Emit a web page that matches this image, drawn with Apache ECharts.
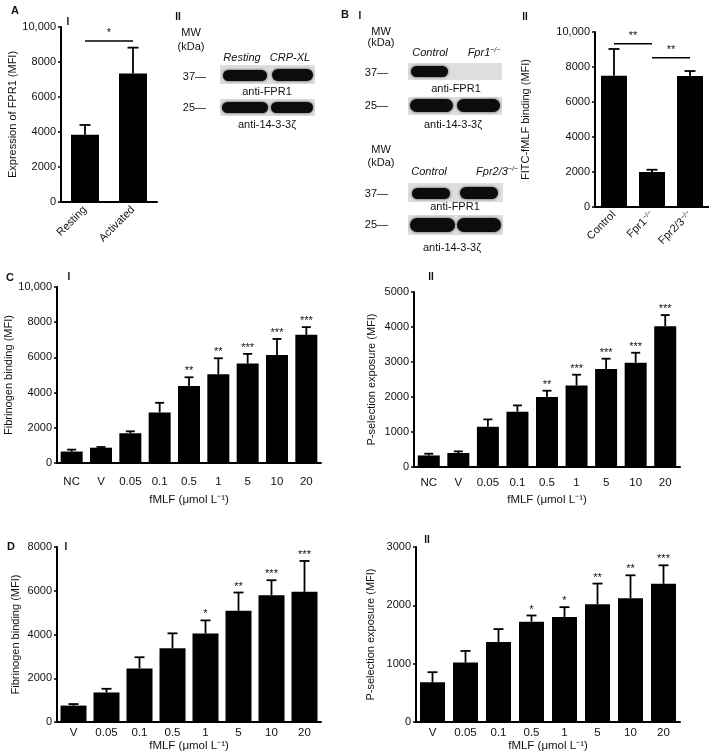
<!DOCTYPE html>
<html>
<head>
<meta charset="utf-8">
<script src="https://cdn.jsdelivr.net/npm/echarts@6/dist/echarts.min.js"></script>
<style>
html,body{margin:0;padding:0;background:#fff;}
#c{width:709px;height:756px;}
</style>
</head>
<body>
<div id="c"></div>
<script>
// ---------- data ----------
const catA = ['Resting', 'Activated'];
const valA = [3850, 7350];
const errA = [4400, 8820];
const sigA = [[0, 1, 9200, '*']];

const catB = ['Control', 'Fpr1', 'Fpr2/3'];
const valB = [7500, 2000, 7490];
const errB = [9030, 2130, 7770];
const sigB = [[0, 1, 9330, '**'], [1, 2, 8530, '**']];

const catC = ['NC', 'V', '0.05', '0.1', '0.5', '1', '5', '10', '20'];
const valC1 = [650, 870, 1690, 2870, 4370, 5040, 5650, 6140, 7280];
const errC1 = [760, 910, 1800, 3420, 4870, 5950, 6200, 7050, 7720];
const starC1 = ['', '', '', '', '**', '**', '***', '***', '***'];
const valC2 = [330, 400, 1150, 1580, 2000, 2330, 2800, 2980, 4020];
const errC2 = [380, 447, 1360, 1760, 2180, 2637, 3094, 3265, 4341];
const starC2 = ['', '', '', '', '**', '***', '***', '***', '***'];

const catD = ['V', '0.05', '0.1', '0.5', '1', '5', '10', '20'];
const valD1 = [750, 1350, 2450, 3370, 4050, 5085, 5800, 5950];
const errD1 = [820, 1518, 2960, 4053, 4645, 5920, 6480, 7362];
const starD1 = ['', '', '', '', '*', '**', '***', '***'];
const valD2 = [680, 1020, 1370, 1720, 1800, 2020, 2120, 2370];
const errD2 = [854, 1218, 1593, 1826, 1969, 2373, 2515, 2686];
const starD2 = ['', '', '', '*', '*', '**', '**', '***'];

// ---------- styling ----------
const FONT = '"Liberation Sans", Arial, Helvetica, sans-serif';
const INK = '#111';
const chart = echarts.init(document.getElementById('c'));

const grids = [
  {left: 61, top: 27, width: 96, height: 175},
  {left: 595, top: 32, width: 114, height: 175},
  {left: 57, top: 287, width: 264, height: 176},
  {left: 414, top: 292, width: 266, height: 175},
  {left: 57, top: 547, width: 264, height: 175},
  {left: 416, top: 547, width: 264, height: 175}
];

function fmtTick(v) { return v >= 10000 ? v.toLocaleString('en-US') : String(v); }

function yAx(gi, max, interval, name, nameGap) {
  return {
    type: 'value', gridIndex: gi, min: 0, max: max, interval: interval,
    name: name, nameLocation: 'middle', nameRotate: 90, nameGap: nameGap,
    nameTextStyle: {fontFamily: FONT, fontSize: 11, color: INK},
    axisLine: {show: true, lineStyle: {color: '#000', width: 2}},
    axisTick: {show: true, length: 3, lineStyle: {color: '#000', width: 1.5}},
    axisLabel: {fontFamily: FONT, fontSize: 11, color: INK, margin: 5, formatter: fmtTick},
    splitLine: {show: false}
  };
}
function xAx(gi, cats, extra) {
  return Object.assign({
    type: 'category', gridIndex: gi, data: cats,
    axisLine: {show: true, lineStyle: {color: '#000', width: 2}},
    axisTick: {show: false},
    splitLine: {show: false},
    nameTextStyle: {fontFamily: FONT, fontSize: 11.5, color: INK},
    axisLabel: {fontFamily: FONT, fontSize: 11.5, color: INK, interval: 0}
  }, extra);
}

const xName = 'fMLF (μmol L⁻¹)';
const xAxes = [
  xAx(0, catA, {axisLabel: {fontFamily: FONT, fontSize: 11, color: INK, rotate: 45, margin: 6, interval: 0}}),
  xAx(1, catB, {axisLabel: {fontFamily: FONT, fontSize: 11, color: INK, rotate: 45, margin: 6, interval: 0,
      formatter: v => v === 'Control' ? v : '{n|' + v + '}{s|−/−}',
      rich: {n: {fontFamily: FONT, fontSize: 11, color: INK}, s: {fontFamily: FONT, fontSize: 7, color: INK, verticalAlign: 'top', padding: [0, 0, 4, 0]}}}}),
  xAx(2, catC, {name: xName, nameLocation: 'middle', nameGap: 31, axisLabel: {fontFamily: FONT, fontSize: 11.5, color: INK, margin: 13, interval: 0}}),
  xAx(3, catC, {name: xName, nameLocation: 'middle', nameGap: 27, axisLabel: {fontFamily: FONT, fontSize: 11.5, color: INK, margin: 10, interval: 0}}),
  xAx(4, catD, {name: xName, nameLocation: 'middle', nameGap: 17, axisLabel: {fontFamily: FONT, fontSize: 11.5, color: INK, margin: 5, interval: 0}}),
  xAx(5, catD, {name: xName, nameLocation: 'middle', nameGap: 17, axisLabel: {fontFamily: FONT, fontSize: 11.5, color: INK, margin: 5, interval: 0}})
];
const yAxes = [
  yAx(0, 10000, 2000, 'Expression of FPR1 (MFI)', 42),
  yAx(1, 10000, 2000, 'FITC-fMLF binding (MFI)', 64),
  yAx(2, 10000, 2000, 'Fibrinogen binding (MFI)', 43),
  yAx(3, 5000, 1000, 'P-selection exposure (MFI)', 37),
  yAx(4, 8000, 2000, 'Fibrinogen binding (MFI)', 36),
  yAx(5, 3000, 1000, 'P-selection exposure (MFI)', 40)
];

function bars(gi, vals, w) {
  return {type: 'bar', xAxisIndex: gi, yAxisIndex: gi, data: vals, barWidth: w,
    itemStyle: {color: '#000'}, silent: true, animation: false};
}
function errs(gi, vals, tops, stars, capW) {
  return {
    type: 'custom', xAxisIndex: gi, yAxisIndex: gi, animation: false, silent: true, z: 5,
    data: vals.map((v, i) => [i, v, tops[i]]),
    renderItem: function (params, api) {
      const i = api.value(0);
      const p0 = api.coord([i, api.value(1)]);
      const p1 = api.coord([i, api.value(2)]);
      const ch = [
        {type: 'line', shape: {x1: p0[0], y1: p0[1], x2: p1[0], y2: p1[1]}, style: {stroke: '#000', lineWidth: 1.8}},
        {type: 'line', shape: {x1: p1[0] - capW / 2, y1: p1[1], x2: p1[0] + capW / 2, y2: p1[1]}, style: {stroke: '#000', lineWidth: 1.8}}
      ];
      const s = stars ? stars[params.dataIndex] : '';
      if (s) ch.push({type: 'text', x: p1[0], y: p1[1] - 6,
        style: {text: s, fontFamily: FONT, fontSize: 11, fill: INK, align: 'center', verticalAlign: 'middle'}});
      return {type: 'group', children: ch};
    }
  };
}
function brackets(gi, items, n) {
  return {
    type: 'custom', xAxisIndex: gi, yAxisIndex: gi, animation: false, silent: true, z: 5,
    data: items.map(d => [d[0], d[1], d[2]]),
    renderItem: function (params, api) {
      const a = api.coord([api.value(0), api.value(2)]);
      const b = api.coord([api.value(1), api.value(2)]);
      return {type: 'group', children: [
        {type: 'line', shape: {x1: a[0], y1: a[1], x2: b[0], y2: b[1]}, style: {stroke: '#000', lineWidth: 1.5}},
        {type: 'text', x: (a[0] + b[0]) / 2, y: a[1] - 8,
          style: {text: items[params.dataIndex][3], fontFamily: FONT, fontSize: 11, fill: INK, align: 'center', verticalAlign: 'middle'}}
      ]};
    }
  };
}

const series = [
  bars(0, valA, 28), errs(0, valA, errA, null, 11), brackets(0, sigA),
  bars(1, valB, 26), errs(1, valB, errB, null, 11), brackets(1, sigB),
  bars(2, valC1, 22), errs(2, valC1, errC1, starC1, 9),
  bars(3, valC2, 22), errs(3, valC2, errC2, starC2, 9),
  bars(4, valD1, 26), errs(4, valD1, errD1, starD1, 10),
  bars(5, valD2, 25), errs(5, valD2, errD2, starD2, 10)
];

// ---------- annotations and blot images ----------
function T(text, x, y, o) {
  o = o || {};
  return {type: 'text', x: x, y: y, silent: true, z: 10,
    style: Object.assign({text: text, fontFamily: FONT, fontSize: 11, fill: INK, align: 'center', verticalAlign: 'middle'}, o)};
}
function bg(x, y, w, h) {
  return {type: 'rect', silent: true, z: 1, shape: {x: x, y: y, width: w, height: h}, style: {fill: '#dedede'}};
}
function band(x, y, w, h) {
  return {type: 'rect', silent: true, z: 2, shape: {x: x, y: y, width: w, height: h, r: h / 2},
    style: {fill: '#0c0c0c', shadowBlur: 3, shadowColor: 'rgba(0,0,0,0.7)'}};
}
const B = {fontWeight: 'bold'};
const I = {fontStyle: 'italic'};
const supRich = {i: {fontFamily: FONT, fontSize: 11, fontStyle: 'italic', fill: INK},
                 s: {fontFamily: FONT, fontSize: 7, fontStyle: 'italic', fill: INK, verticalAlign: 'top', padding: [0, 0, 5, 0]}};

const graphic = [
  // panel letters and numerals
  T('A', 15, 11, B), T('B', 345, 15, B), T('C', 10, 278, B), T('D', 11, 547, B),
  T('I', 68, 22, Object.assign({fontSize: 10}, B)),
  T('II', 178, 17, Object.assign({fontSize: 10}, B)),
  T('I', 360, 16, Object.assign({fontSize: 10}, B)),
  T('II', 525, 17, Object.assign({fontSize: 10}, B)),
  T('I', 69, 277, Object.assign({fontSize: 10}, B)),
  T('II', 431, 277, Object.assign({fontSize: 10}, B)),
  T('I', 66, 547, Object.assign({fontSize: 10}, B)),
  T('II', 427, 540, Object.assign({fontSize: 10}, B)),

  // A II blot
  T('MW', 191, 33), T('(kDa)', 191, 47),
  T('Resting', 242, 58, I), T('CRP-XL', 290, 58, I),
  bg(220, 65, 95, 19), band(223, 70, 44, 11), band(272, 69, 41, 12),
  T('37—', 206, 77, {align: 'right'}),
  T('anti-FPR1', 267, 92),
  bg(220, 99, 95, 17), band(222, 102, 46, 11), band(271, 102, 42, 11),
  T('25—', 206, 108, {align: 'right'}),
  T('anti-14-3-3ζ', 267, 125),

  // B I blots
  T('MW', 381, 32), T('(kDa)', 381, 43),
  T('Control', 430, 53, I),
  T('{i|Fpr1}{s|−/−}', 484, 53, {rich: supRich}),
  bg(408, 63, 94, 17), band(411, 66, 37, 11),
  T('37—', 388, 73, {align: 'right'}),
  T('anti-FPR1', 456, 89),
  bg(408, 97, 94, 18), band(410, 99, 43, 13), band(457, 99, 43, 13),
  T('25—', 388, 106, {align: 'right'}),
  T('anti-14-3-3ζ', 453, 125),

  T('MW', 381, 150), T('(kDa)', 381, 163),
  T('Control', 429, 172, I),
  T('{i|Fpr2/3}{s|−/−}', 497, 172, {rich: supRich}),
  bg(408, 183, 95, 19), band(412, 188, 38, 11), band(460, 187, 38, 12),
  T('37—', 388, 194, {align: 'right'}),
  T('anti-FPR1', 455, 207),
  bg(408, 215, 95, 20), band(410, 218, 45, 14), band(457, 218, 44, 14),
  T('25—', 388, 225, {align: 'right'}),
  T('anti-14-3-3ζ', 452, 248)
];

chart.setOption({
  backgroundColor: '#fff',
  animation: false,
  textStyle: {fontFamily: FONT},
  grid: grids,
  xAxis: xAxes,
  yAxis: yAxes,
  series: series,
  graphic: graphic
});
</script>
</body>
</html>
